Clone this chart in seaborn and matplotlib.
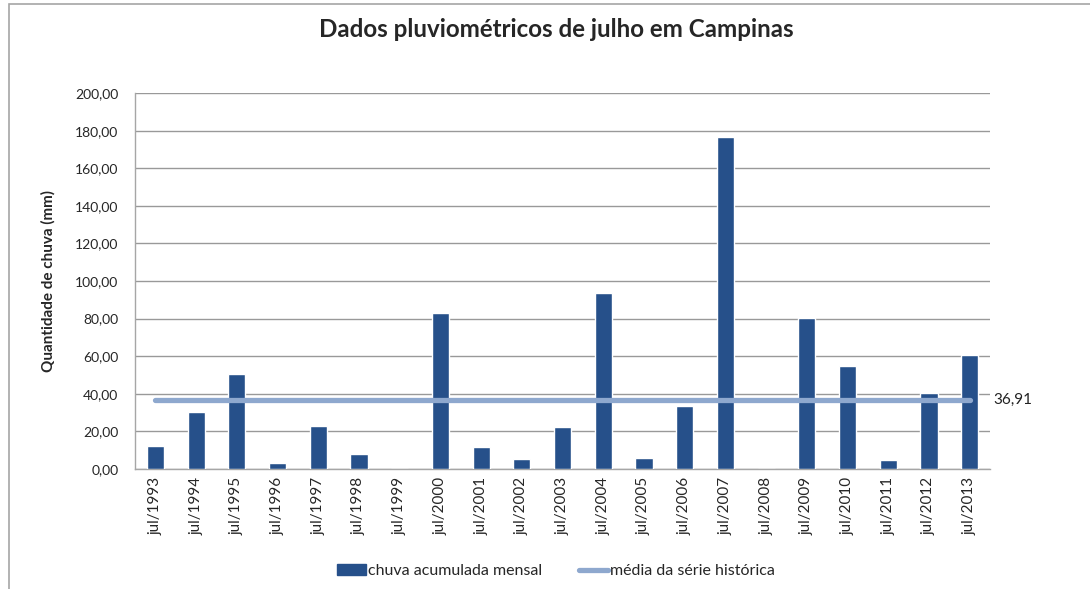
import matplotlib
matplotlib.use('Agg')
import matplotlib.pyplot as plt
import matplotlib.patches as mpatches
from matplotlib.lines import Line2D
import pandas as pd
import seaborn as sns

# Data
anos = ['jul/1993', 'jul/1994', 'jul/1995', 'jul/1996', 'jul/1997', 'jul/1998', 'jul/1999',
        'jul/2000', 'jul/2001', 'jul/2002', 'jul/2003', 'jul/2004', 'jul/2005', 'jul/2006',
        'jul/2007', 'jul/2008', 'jul/2009', 'jul/2010', 'jul/2011', 'jul/2012', 'jul/2013']
chuva = [12.0, 30.5, 50.7, 3.4, 23.0, 8.1, 0.0,
         83.1, 11.9, 5.5, 22.5, 93.8, 6.0, 33.7,
         176.8, 0.0, 80.5, 54.9, 4.9, 40.6, 60.8]
media = 36.91
y_ticks = [0, 20, 40, 60, 80, 100, 120, 140, 160, 180, 200]

bar_color = '#26508A'
line_color = '#8EA8CE'

sns.set_style('white')
plt.rcParams['font.family'] = ['Lato', 'DejaVu Sans']

df = pd.DataFrame({'mes': anos, 'chuva': chuva})

fig = plt.figure(figsize=(10.9, 5.89), dpi=100)
ax = fig.add_axes([0.1239, 0.2037, 0.7844, 0.6383])

# outer chart frame
fig.patches.append(mpatches.Rectangle((9 / 1090, -0.1), 1.2, 1 - 4 / 589 + 0.1,
                                      transform=fig.transFigure, fill=False,
                                      edgecolor='#A6A6A6', linewidth=1.2, zorder=0))

sns.barplot(data=df, x='mes', y='chuva', color=bar_color, width=0.42,
            saturation=1, ax=ax, zorder=3)

xs = list(range(len(anos)))
ax.plot(xs, [media] * len(xs), color=line_color, linewidth=3.8,
        solid_capstyle='round', zorder=4)
ax.text(len(anos) - 0.42, media, '36,91', fontsize=11, va='center', ha='left',
        color='#222222')

ax.set_ylim(0, 200)
ax.set_xlim(-0.5, len(anos) - 0.5)
ax.set_yticks(y_ticks)
ax.set_yticklabels([f'{v:.2f}'.replace('.', ',') for v in y_ticks], fontsize=10)
ax.tick_params(axis='x', labelrotation=90, labelsize=11, length=0, pad=6)
ax.tick_params(axis='y', length=0, pad=12)
ax.yaxis.grid(True, color='#999999', linewidth=1)
ax.set_axisbelow(True)

for s in ['top', 'right']:
    ax.spines[s].set_visible(False)
for s in ['left', 'bottom']:
    ax.spines[s].set_color('#A6A6A6')
    ax.spines[s].set_linewidth(1)

ax.set_xlabel('')
ax.set_ylabel('Quantidade de chuva (mm)', fontsize=11, fontweight='bold', labelpad=14)
fig.text(0.51, 0.95, 'Dados pluviométricos de julho em Campinas', fontsize=17.4,
         fontweight='bold', ha='center', va='center')

handles = [mpatches.Patch(color=bar_color, label='chuva acumulada mensal'),
           Line2D([0], [0], color=line_color, linewidth=3.8, label='média da série histórica')]
fig.legend(handles=handles, loc='center', bbox_to_anchor=(0.51, 0.03), ncol=2,
           frameon=False, fontsize=11.5, handlelength=1.8, columnspacing=2.3,
           handletextpad=0.15)

fig.savefig('out.png', dpi=100)
